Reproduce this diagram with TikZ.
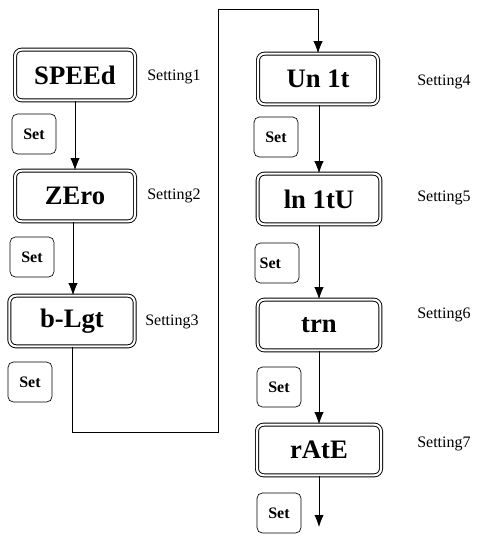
\documentclass[tikz,border=0pt]{standalone}
\usepackage{fontspec}
\setmainfont{Liberation Serif}
\usetikzlibrary{arrows.meta}
\tikzset{
  disp/.style={draw,double,double distance=1.6pt,line width=0.7pt,rounded corners=5pt,
    minimum width=90pt,minimum height=38pt,inner sep=0pt,
    font=\bfseries\fontsize{20}{20}\selectfont},
  setkey/.style={draw,line width=0.5pt,rounded corners=4pt,minimum width=33pt,minimum height=30pt,
    inner sep=0pt,font=\bfseries\fontsize{12}{12}\selectfont},
  setting/.style={anchor=west,inner sep=0pt,font=\fontsize{12}{12}\selectfont},
  flow/.style={line width=0.6pt,-{Latex[length=9pt,width=7pt]}}
}
\begin{document}
\begin{tikzpicture}[x=0.75pt,y=-0.75pt]
\useasboundingbox (0,0) rectangle (476,538);
% left column
\node[disp] (speed) at (75,75) {SPEEd};
\node[disp] (zero) at (75,196) {ZEro};
\node[disp,minimum width=94pt] (blgt) at (72,321) {b-Lgt};
\node[setting] (s1) at (147,77) {Setting1};
\node[setting] (s2) at (147,196) {Setting2};
\node[setting] (s3) at (145,322) {Setting3};
\node[setkey] (k1) at (34,134) {Set};
\node[setkey] (k2) at (32,257) {Set};
\node[setkey] (k3) at (30,382) {Set};
% right column
\node[disp] (unit) at (318,79) {Un 1t};
\node[disp,minimum width=92pt] (inunit) at (319,199) {ln 1tU};
\node[disp,minimum width=92pt] (trn) at (319,325) {trn};
\node[disp,minimum width=93pt] (rate) at (319,450) {rAtE};
\node[setting] (s4) at (417,82) {Setting4};
\node[setting] (s5) at (417,198) {Setting5};
\node[setting] (s6) at (417,315) {Setting6};
\node[setting] (s7) at (417,444) {Setting7};
\node[setkey] (k4) at (276,137) {Set};
\node[setkey] (k5) at (277,263) {\hspace*{-10pt}Set};
\node[setkey] (k6) at (279,387) {Set};
\node[setkey] (k7) at (279,513) {Set};
% connectors
\draw[flow] (speed) -- (zero);
\draw[flow] (zero.south -| 73,0) -- (blgt.north -| 73,0);
\coordinate (ca) at (blgt.south |- 0,432);
\coordinate (cb) at (218,432);
\coordinate (cc) at (218,9);
\coordinate (cd) at (unit.north |- 0,9);
\draw[flow] (blgt.south) -- (ca) -- (cb) -- (cc) -- (cd) -- (unit.north);
\draw[flow] (unit.south -| inunit.south) -- (inunit.north);
\draw[flow] (inunit) -- (trn);
\draw[flow] (trn) -- (rate);
\coordinate (end) at (rate.south |- 0,527);
\draw[flow] (rate.south) -- (end);
\end{tikzpicture}
\end{document}
